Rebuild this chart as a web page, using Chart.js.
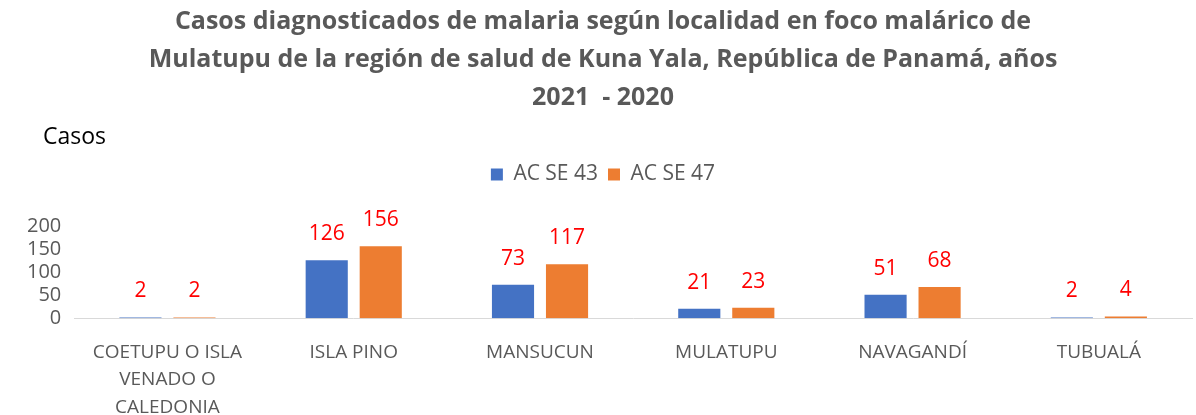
<!DOCTYPE html>
<html>
<head>
<meta charset="utf-8">
<script src="https://cdn.jsdelivr.net/npm/chart.js@4"></script>
<style>
  html, body { margin: 0; padding: 0; background: #fff; }
  #wrap { width: 1196px; height: 415px; }
</style>
</head>
<body>
<div id="wrap"><canvas id="malariaChart" width="1196" height="415"></canvas></div>
<script>
// datos
const localidades = [
    ['COETUPU O ISLA', 'VENADO O', 'CALEDONIA'],
    'ISLA PINO',
    'MANSUCUN',
    'MULATUPU',
    'NAVAGANDÍ',
    'TUBUALÁ'
];
const casosSE43 = [2, 126, 73, 21, 51, 2];
const casosSE47 = [2, 156, 117, 23, 68, 4];
const ticksY = [0, 50, 100, 150, 200];
const titulo = [
    'Casos diagnosticados de malaria según localidad en foco malárico de',
    'Mulatupu de la región de salud de Kuna Yala, República de Panamá, años',
    '2021  - 2020'
];

const fuente = "'Open Sans', 'Liberation Sans', sans-serif";
const gris = '#595959';

// etiquetas rojas encima de cada barra
const etiquetas = {
    id: 'etiquetas',
    afterDatasetsDraw(chart) {
        const ctx = chart.ctx;
        ctx.save();
        ctx.fillStyle = '#FF0000';
        ctx.font = '21px ' + fuente;
        ctx.textAlign = 'center';
        ctx.textBaseline = 'middle';
        chart.data.datasets.forEach((ds, i) => {
            chart.getDatasetMeta(i).data.forEach((bar, j) => {
                ctx.fillText(ds.data[j], bar.x, bar.y - 26);
            });
        });
        ctx.restore();
    }
};

// título del eje "Casos" y espacio bajo la leyenda
const ejeCasos = {
    id: 'ejeCasos',
    beforeInit(chart) {
        const legend = chart.legend;
        if (!legend) return;
        const fit = legend.fit;
        legend.fit = function() {
            fit.call(this);
            this.height += 31;
        };
    },
    afterDraw(chart) {
        const ctx = chart.ctx;
        ctx.save();
        ctx.fillStyle = '#000';
        ctx.font = '23px ' + fuente;
        ctx.textAlign = 'left';
        ctx.textBaseline = 'middle';
        ctx.fillText('Casos', 43, 137);
        ctx.restore();
    }
};

const ctx = document.getElementById('malariaChart').getContext('2d');
const malariaChart = new Chart(ctx, {
    type: 'bar',
    data: {
        labels: localidades,
        datasets: [
            {
                label: 'AC SE 43',
                data: casosSE43,
                backgroundColor: '#4472C4',
                categoryPercentage: 0.58,
                barPercentage: 0.78
            },
            {
                label: 'AC SE 47',
                data: casosSE47,
                backgroundColor: '#ED7D31',
                categoryPercentage: 0.58,
                barPercentage: 0.78
            }
        ]
    },
    options: {
        responsive: false,
        animation: false,
        layout: { padding: { left: 14, right: 4, top: 3, bottom: -26 } },
        plugins: {
            title: {
                display: true,
                text: titulo,
                color: gris,
                font: { family: fuente, size: 25, weight: 'bold', lineHeight: 1.52 },
                padding: { top: 0, bottom: 37 }
            },
            legend: {
                display: true,
                labels: {
                    color: gris,
                    font: { family: fuente, size: 21 },
                    boxWidth: 12,
                    boxHeight: 12,
                    padding: 10
                }
            },
            tooltip: { enabled: false }
        },
        scales: {
            x: {
                grid: { display: false, drawTicks: false },
                border: { color: '#D9D9D9', width: 1 },
                ticks: {
                    color: gris,
                    font: { family: fuente, size: 19, lineHeight: 1.45 },
                    padding: 20,
                    maxRotation: 0,
                    autoSkip: false
                }
            },
            y: {
                min: 0,
                max: 200,
                grid: { display: false, drawTicks: false },
                border: { display: false },
                afterBuildTicks(axis) {
                    axis.ticks = ticksY.map(v => ({ value: v }));
                },
                ticks: {
                    color: gris,
                    font: { family: fuente, size: 20 },
                    padding: 13,
                    autoSkip: false
                }
            }
        }
    },
    plugins: [etiquetas, ejeCasos]
});
</script>
</body>
</html>
